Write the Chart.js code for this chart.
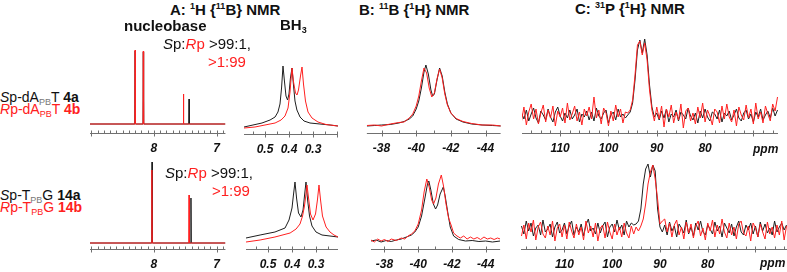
<!DOCTYPE html>
<html>
<head>
<meta charset="utf-8">
<script src="https://cdn.jsdelivr.net/npm/chart.js@4.4.0/dist/chart.umd.min.js"></script>
<style>
  body { margin: 0; width: 787px; height: 272px; background: #fff; position: relative; overflow: hidden;
         font-family: Arial, "Liberation Sans", sans-serif; }
  canvas { position: absolute; }
  .t { position: absolute; white-space: nowrap; line-height: 1; color: #111; }
  .t sup, .t sub { position: relative; vertical-align: baseline; line-height: 0; font-size: 9px; }
  .t sup { top: -6px; }
  .t sub { top: 3px; }
  .h { font-size: 15px; font-weight: bold; }
  .r15 { font-size: 15px; }
  .l14 { font-size: 14px; }
  .ppm { font-size: 12px; font-weight: bold; font-style: italic; }
  .red { color: #ff2020; }
  .gr { color: #777; }
</style>
</head>
<body>
<canvas id="nb1"></canvas>
<canvas id="bh1"></canvas>
<canvas id="b1"></canvas>
<canvas id="c1"></canvas>
<canvas id="nb2"></canvas>
<canvas id="bh2"></canvas>
<canvas id="b2"></canvas>
<canvas id="c2"></canvas>

<div class="t h" style="left:170px;top:2px">A: <sup>1</sup>H {<sup>11</sup>B} NMR</div>
<div class="t h" style="left:359px;top:2px">B: <sup>11</sup>B {<sup>1</sup>H} NMR</div>
<div class="t h" style="left:575px;top:1px">C: <sup>31</sup>P {<sup>1</sup>H} NMR</div>
<div class="t h" style="left:124px;top:18px">nucleobase</div>
<div class="t h" style="left:280px;top:17px">BH<sub>3</sub></div>

<div class="t r15" style="left:163px;top:36px"><i>S</i>p:<span class="red"><i>R</i>p</span> &gt;99:1,</div>
<div class="t r15 red" style="left:208px;top:54px">&gt;1:99</div>
<div class="t r15" style="left:165px;top:165px"><i>S</i>p:<span class="red"><i>R</i>p</span> &gt;99:1,</div>
<div class="t r15 red" style="left:212px;top:183px">&gt;1:99</div>

<div class="t l14" style="left:0px;top:90px"><i>S</i>p-dA<sub class="gr">PB</sub>T <b>4a</b></div>
<div class="t l14 red" style="left:0px;top:102px"><i>R</i>p-dA<sub>PB</sub>T <b>4b</b></div>
<div class="t l14" style="left:0px;top:188px"><i>S</i>p-T<sub class="gr">PB</sub>G <b>14a</b></div>
<div class="t l14 red" style="left:0px;top:200px"><i>R</i>p-T<sub>PB</sub>G <b>14b</b></div>

<div class="t ppm" style="left:753px;top:143px">ppm</div>
<div class="t ppm" style="left:760px;top:257px">ppm</div>

<script>
// ---- data: [ppm, intensity] ----
// A, 1H nucleobase region
const nb1Sp = [[9.02,0],[8.305,0],[8.30,73],[8.295,0],[8.175,0],[8.17,72],[8.165,0],[7.445,0],[7.44,25],[7.435,0],[6.86,0]];
const nb1Rp = [[9.02,0],[8.305,0],[8.30,74],[8.295,0],[8.175,0],[8.17,73],[8.165,0],[7.535,0],[7.53,30],[7.525,0],[6.86,0]];
const nb2Sp = [[9.02,0],[8.035,0],[8.03,81],[8.025,0],[7.415,0],[7.41,45],[7.405,0],[6.86,0]];
const nb2Rp = [[9.02,0],[8.038,0],[8.033,73],[8.028,0],[7.445,0],[7.44,48],[7.435,0],[6.86,0]];

// A, 1H BH3 region
const bh1Sp = [[0.5875,-1],[0.55,1],[0.5125,3],[0.479,6],[0.458,9],[0.446,14],[0.4375,22],[0.431,38],[0.425,60],
  [0.419,45],[0.4125,30],[0.406,26],[0.4,32],[0.394,48],[0.3875,58],[0.381,40],[0.375,25],[0.367,16],[0.354,9],
  [0.3375,5],[0.3125,3],[0.271,2],[0.229,1],[0.196,0]];
const bh1Rp = [[0.5875,-2],[0.5417,-1],[0.5,1],[0.458,3],[0.433,6],[0.4167,10],[0.404,18],[0.3958,34],[0.3875,58],
  [0.381,44],[0.3729,33],[0.3667,31],[0.3604,36],[0.3521,50],[0.3458,59],[0.3396,42],[0.3313,25],[0.3208,14],
  [0.3042,8],[0.2792,4],[0.2458,1.5],[0.196,0]];
const bh2Sp = [[0.5917,2],[0.533,5],[0.471,8],[0.429,12],[0.4125,20],[0.4,32],[0.394,45],[0.3875,58],[0.381,42],
  [0.3729,27],[0.3625,23],[0.354,30],[0.348,44],[0.3417,58],[0.335,40],[0.327,24],[0.3167,14],[0.3,8],[0.275,5],
  [0.2417,4],[0.2083,3]];
const bh2Rp = [[0.5917,-2],[0.533,0],[0.471,3],[0.408,7],[0.383,11],[0.3667,16],[0.356,24],[0.348,34],[0.3417,46],
  [0.3375,55],[0.331,42],[0.3229,26],[0.3125,20],[0.302,26],[0.294,40],[0.2875,55],[0.281,40],[0.273,24],[0.258,13],
  [0.2417,8],[0.225,5],[0.2083,3]];

// B, 11B
const b1Sp = [[-37.15,0],[-37.6,0.5],[-38.0,1],[-38.5,1.5],[-39.0,3],[-39.3,4.5],[-39.6,7],[-39.8,10],[-40.0,17],
  [-40.15,25],[-40.3,38],[-40.45,54],[-40.56,61],[-40.7,52],[-40.85,36],[-40.95,30],[-41.05,32],[-41.2,46],[-41.35,58],
  [-41.5,50],[-41.65,34],[-41.8,22],[-42.0,13],[-42.3,7],[-42.7,4],[-43.2,2],[-43.8,1],[-44.4,0.5],[-44.9,0]];
const b1Rp = [[-37.15,0.5],[-37.6,1],[-38.0,0],[-38.5,2],[-39.0,3.5],[-39.3,4],[-39.6,8],[-39.8,12],[-40.0,20],
  [-40.15,30],[-40.3,45],[-40.45,58],[-40.6,53],[-40.75,38],[-40.9,29],[-41.05,33],[-41.2,47],[-41.35,57],[-41.5,48],
  [-41.65,32],[-41.8,21],[-42.0,13],[-42.3,7.5],[-42.7,4.5],[-43.2,2.5],[-43.8,1],[-44.4,1],[-44.9,0]];
const b2Sp = [[-37.2,1],[-37.5,2],[-37.8,0],[-38.1,1.5],[-38.4,0.5],[-38.7,2],[-39.0,3],[-39.3,5],[-39.6,7],[-39.8,10],
  [-40.0,15],[-40.2,26],[-40.4,44],[-40.55,58],[-40.63,61],[-40.75,52],[-40.9,38],[-41.03,33],[-41.15,37],[-41.3,48],
  [-41.49,55],[-41.6,46],[-41.75,30],[-41.9,15],[-42.1,6],[-42.4,2.5],[-42.8,1],[-43.2,1.5],[-43.6,0.5],[-44.0,1],
  [-44.4,0],[-44.86,1]];
const b2Rp = [[-37.2,2],[-37.4,0],[-37.6,3],[-37.8,1],[-38.0,2.5],[-38.2,0.5],[-38.4,3],[-38.7,1.5],[-39.0,4],[-39.2,3],
  [-39.4,6],[-39.6,8],[-39.8,11],[-40.0,18],[-40.2,32],[-40.35,50],[-40.51,63],[-40.65,55],[-40.8,42],[-40.91,38],
  [-41.05,44],[-41.2,58],[-41.37,67],[-41.5,56],[-41.65,38],[-41.8,24],[-41.95,17],[-42.1,9],[-42.3,6],[-42.5,4],
  [-42.7,6],[-42.9,3],[-43.1,5],[-43.3,3],[-43.5,4.5],[-43.7,2.5],[-43.9,5],[-44.1,3],[-44.3,4],[-44.5,2.5],[-44.7,4],
  [-44.86,3]];

// C, 31P: intensities sampled every 0.5 ppm from the start value
const c1Start = 118, c2Start = 119, cStep = 0.5;
const c1Sp = [2,-4,5,-6,1,7,-3,-8,4,0,-5,6,-2,-7,3,8,-1,-6,2,-3,5,-4,0,6,-7,1,-2,4,-5,3,-6,7,-1,-4,2,5,-8,0,3,-5,6,-2,1,-3,
  0,3,12,35,65,75,62,76,60,30,8,-2,2,
  -5,4,-3,6,-7,1,-2,5,-6,3,0,-4,7,-1,-5,2,-8,4,-3,6,-2,-6,3,1,-4,5,-7,2,-1,4,-5,0,6,-3,-6,2,5,-4,1,-7,3,-2,6,-5,0,4,-3,7,-1,5];
const c1Rp = [-6,8,-10,3,11,-4,6,-9,2,10,-7,5,-3,9,-11,4,-2,7,-8,12,-5,1,9,-6,3,-10,6,-1,8,-4,18,-3,5,-9,7,2,-11,4,-6,10,-2,6,-8,3,
  2,5,15,40,70,74,60,72,55,25,5,-6,8,
  -4,9,-12,6,-2,10,-8,3,-5,11,-13,4,7,-6,2,-9,8,-3,12,-7,5,-1,-10,6,3,-8,9,-4,11,-2,-7,5,-11,8,0,-5,10,-3,6,-9,12,-4,3,-8,9,1,-6,11,4,18];
const c2Sp = [3,-5,8,-2,6,-7,1,4,-6,9,-3,0,5,-8,2,7,-4,-1,6,-5,3,8,-6,2,-3,5,-7,4,10,-2,1,-5,6,-4,3,7,-8,2,5,-3,9,-1,4,-6,8,2,6,4,5,
  8,20,45,60,65,52,64,58,20,2,-3,
  4,-6,7,-2,3,-8,5,1,-4,9,-5,2,-7,6,-1,8,-3,-6,4,0,-5,7,-2,3,-8,6,1,-4,5,-7,2,8,-3,-6,4,-1,6,-5,3,-8,7,-2,5,-4,1,-6,8,-3,2,6,-1,4];
const c2Rp = [-7,4,-10,6,-3,9,-11,2,7,-5,-9,3,-6,8,-12,1,5,-8,4,-10,7,-2,-9,5,-6,2,-11,8,-4,3,-8,6,-12,1,4,-9,7,-3,-10,5,-6,2,-8,6,-4,-9,3,-5,2,
  -2,3,10,25,45,57,64,50,30,5,8,
  10,-3,6,-8,4,9,-6,2,-10,7,-4,5,-9,3,8,-7,1,-11,6,-2,9,-8,4,-5,10,-3,-9,6,-6,2,-10,5,8,-4,-7,3,-12,6,1,-8,5,-3,-10,7,-5,2,-9,4,-6,8,-11,3];

// tick labels
const nbTicks = [8, 7];
const bhTicks = [0.5, 0.4, 0.3];
const bTicks = [-38, -40, -42, -44];
const pTicks = [110, 100, 90, 80];

const RED = '#ff2020', BLACK = '#1e1e1e';
const PLOT_H = 100, AXIS_H = 22;

// axis line with inward minor ticks, major ticks crossing the line
const axisTicks = {
  id: 'axisTicks',
  afterDraw(chart, args, opts) {
    const sc = chart.scales.x, ctx = chart.ctx;
    const y = Math.round(chart.chartArea.bottom) + 0.5;
    ctx.save();
    ctx.strokeStyle = '#707070';
    ctx.lineWidth = 1;
    ctx.beginPath();
    ctx.moveTo(sc.left, y);
    ctx.lineTo(sc.right, y);
    const n0 = Math.ceil(sc.min / opts.minor - 1e-6), n1 = Math.floor(sc.max / opts.minor + 1e-6);
    for (let n = n0; n <= n1; n++) {
      const v = n * opts.minor;
      const x = Math.round(sc.getPixelForValue(v)) + 0.5;
      const isMajor = Math.abs(v / opts.major - Math.round(v / opts.major)) < 1e-6;
      ctx.moveTo(x, y - 3);
      ctx.lineTo(x, isMajor ? y + 3 : y);
    }
    ctx.stroke();
    ctx.restore();
  }
};

const pairs = arr => arr.map(p => ({x: p[0], y: p[1]}));
const sampled = (arr, start) => arr.map((v, i) => ({x: start - i * cStep, y: v}));

function makePanel(id, box, xmin, xmax, gap, tickVals, minor, major, sp, rp) {
  const canvas = document.getElementById(id);
  canvas.width = box.right - box.left;
  canvas.height = PLOT_H + AXIS_H;
  canvas.style.left = box.left + 'px';
  canvas.style.top = (box.axis - PLOT_H) + 'px';
  new Chart(canvas, {
    type: 'line',
    data: {
      datasets: [
        {data: rp, borderColor: RED, borderWidth: 1},
        {data: sp, borderColor: BLACK, borderWidth: 1}
      ]
    },
    options: {
      responsive: false,
      animation: false,
      devicePixelRatio: 1,
      events: [],
      layout: {padding: 0},
      elements: {point: {radius: 0}, line: {tension: 0}},
      plugins: {
        legend: {display: false},
        tooltip: {enabled: false},
        axisTicks: {minor: minor, major: major}
      },
      scales: {
        x: {
          type: 'linear',
          reverse: true,
          min: xmin,
          max: xmax,
          afterBuildTicks: a => { a.ticks = tickVals.map(v => ({value: v})); },
          afterFit: a => { a.height = AXIS_H; },
          grid: {display: false, drawTicks: false},
          border: {display: false},
          ticks: {
            color: '#111',
            padding: 8,
            maxRotation: 0,
            autoSkip: false,
            callback: v => String(v),
            font: {family: 'Arial, "Liberation Sans", sans-serif', size: 12, style: 'italic', weight: 'bold'}
          }
        },
        y: {display: false, min: -gap, max: PLOT_H - gap}
      }
    },
    plugins: [axisTicks]
  });
}

makePanel('nb1', {left: 90, right: 228, axis: 133}, 6.86, 9.02, 9, nbTicks, 0.1, 1, pairs(nb1Sp), pairs(nb1Rp));
makePanel('bh1', {left: 244, right: 338, axis: 134}, 0.1958, 0.5875, 8, bhTicks, 0.05, 0.1, pairs(bh1Sp), pairs(bh1Rp));
makePanel('b1', {left: 365, right: 502, axis: 133}, -44.87, -37.155, 7, bTicks, 1, 2, pairs(b1Sp), pairs(b1Rp));
makePanel('c1', {left: 522, right: 778, axis: 133}, 64.9, 117.9, 18, pTicks, 2, 10, sampled(c1Sp, c1Start), sampled(c1Rp, c1Start));

makePanel('nb2', {left: 90, right: 228, axis: 249}, 6.86, 9.02, 6, nbTicks, 0.1, 1, pairs(nb2Sp), pairs(nb2Rp));
makePanel('bh2', {left: 246, right: 338, axis: 249}, 0.2083, 0.5917, 9, bhTicks, 0.05, 0.1, pairs(bh2Sp), pairs(bh2Rp));
makePanel('b2', {left: 368, right: 502, axis: 249}, -44.857, -37.2, 7, bTicks, 1, 2, pairs(b2Sp), pairs(b2Rp));
makePanel('c2', {left: 521, right: 787, axis: 249}, 63.4, 119.1, 20, pTicks, 2, 10, sampled(c2Sp, c2Start), sampled(c2Rp, c2Start));
</script>
</body>
</html>
